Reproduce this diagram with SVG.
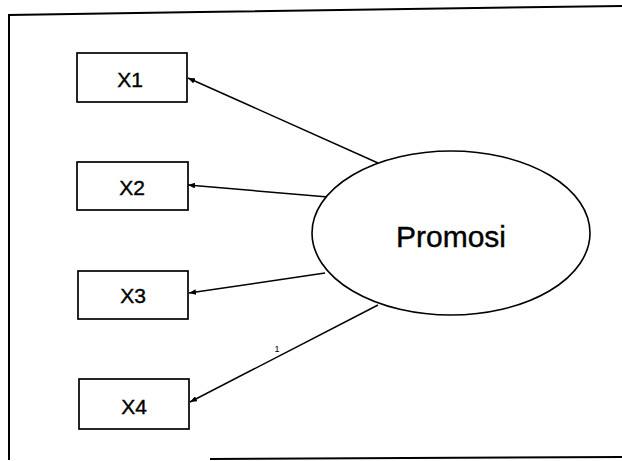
<svg xmlns="http://www.w3.org/2000/svg" width="622" height="461" viewBox="0 0 622 461">
<style>
.box{fill:#fff;stroke:#000;stroke-width:1.7}
.lbl{font-family:"Liberation Sans",Arial,sans-serif;font-size:21px;fill:#000;stroke:#000;stroke-width:0.4;text-anchor:middle}
.edge{stroke:#000;stroke-width:1.5;fill:none;marker-end:url(#ah)}
.frame{stroke:#000;stroke-width:2;fill:none}
</style>
<defs>
<marker id="ah" viewBox="0 0 10 8" refX="10" refY="4" markerWidth="7" markerHeight="5.6" markerUnits="userSpaceOnUse" orient="auto">
<path d="M0,0 L10,4 L0,8 Z" fill="#000"/>
</marker>
</defs>
<rect width="622" height="461" fill="#fff"/>
<g id="frame">
<polyline class="frame" points="622,6 200,12 9,15 9,460"/>
<line class="frame" x1="210" y1="459" x2="622" y2="457"/>
</g>
<g id="connectors">
<line class="edge" x1="378" y1="163" x2="188" y2="78"/>
<line class="edge" x1="328" y1="197" x2="188" y2="185"/>
<line class="edge" x1="325" y1="273" x2="189" y2="293"/>
<line class="edge" x1="378" y1="305" x2="190" y2="402"/>
<text x="277" y="352" style="font-family:'Liberation Sans',Arial,sans-serif;font-size:9px;fill:#000;text-anchor:middle">1</text>
</g>
<g id="X1"><rect class="box" x="77" y="53" width="110" height="49"/><text class="lbl" x="130" y="87">X1</text></g>
<g id="X2"><rect class="box" x="77" y="162" width="111" height="48"/><text class="lbl" x="132" y="195">X2</text></g>
<g id="X3"><rect class="box" x="78" y="271" width="110" height="48"/><text class="lbl" x="133" y="303">X3</text></g>
<g id="X4"><rect class="box" x="79" y="379" width="110" height="50"/><text class="lbl" x="134" y="414">X4</text></g>
<g id="Promosi"><ellipse cx="451" cy="233" rx="139" ry="82" fill="#fff" stroke="#000" stroke-width="1.6"/><text x="451" y="247" style="font-family:'Liberation Sans',Arial,sans-serif;font-size:30px;fill:#000;stroke:#000;stroke-width:0.4;text-anchor:middle">Promosi</text></g>
</svg>
